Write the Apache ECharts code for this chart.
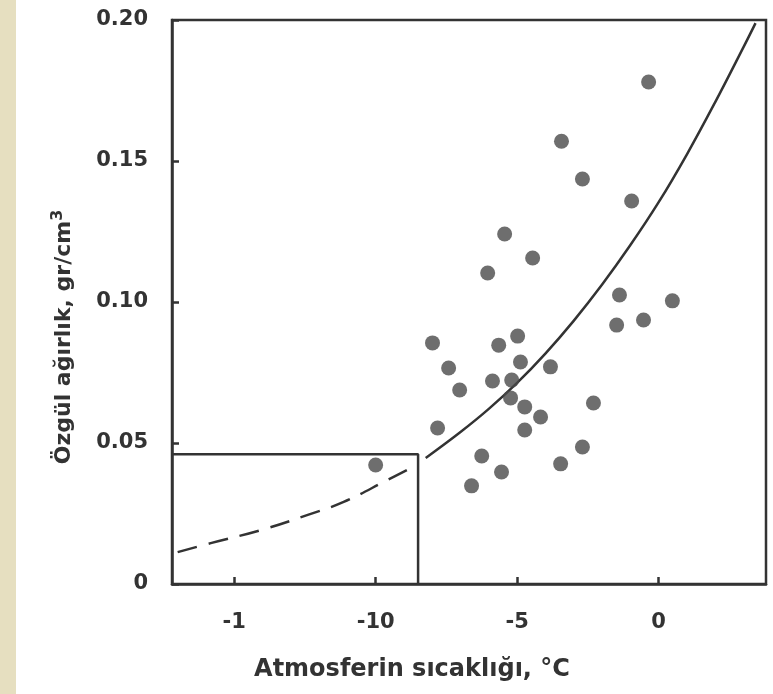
<!DOCTYPE html>
<html>
<head>
<meta charset="utf-8">
<script src="https://cdn.jsdelivr.net/npm/echarts@6/dist/echarts.min.js"></script>
<style>
  html, body { margin: 0; padding: 0; background: #fff; }
  #main { width: 773px; height: 694px; }
</style>
</head>
<body>
<div id="main"></div>
<script>
// measured points (temperature °C, density gr/cm3)
const dots = [
  [-0.35, 0.178], [-3.43, 0.157], [-2.69, 0.1436], [-0.95, 0.1358],
  [-5.44, 0.1241], [-4.45, 0.1156], [-6.04, 0.1103], [-1.38, 0.1025],
  [0.49, 0.1004], [-1.48, 0.0918], [-0.53, 0.0936], [-7.99, 0.0855],
  [-5.65, 0.0847], [-4.98, 0.0879], [-7.42, 0.0766], [-4.88, 0.0787],
  [-3.82, 0.0770], [-7.03, 0.0688], [-5.87, 0.0720], [-5.19, 0.0723],
  [-5.23, 0.0660], [-4.73, 0.0628], [-4.17, 0.0592], [-2.30, 0.0642],
  [-7.81, 0.0553], [-4.73, 0.0546], [-2.69, 0.0486], [-6.25, 0.0454],
  [-5.55, 0.0397], [-3.46, 0.0426], [-6.61, 0.0348], [-10.0, 0.0422]
]

// fitted curve
const solidCurve = [
  [-8.23, 0.0447], [-7, 0.0539], [-6, 0.0621], [-5, 0.0713],
  [-4, 0.0817], [-3, 0.0933], [-2, 0.1061], [-1, 0.1201],
  [0, 0.1353], [1, 0.1523], [2, 0.1708], [3, 0.1903], [3.43, 0.1989]
]

const dashedCurve = [
  [-17.0, 0.0113], [-15.83, 0.0145], [-14.06, 0.0191], [-12.4, 0.0245],
  [-11.13, 0.0291], [-9.58, 0.0369], [-8.76, 0.0411]
]

const boxLine = [[-17.2, 0.046], [-8.5, 0.046], [-8.5, 0]]

const xTicks = [-15, -10, -5, 0]
const xTickLabels = ['-1', '-10', '-5', '0']

const ink = '#333'
const font = 'DejaVu Sans'

const chart = echarts.init(document.getElementById('main'), null, { renderer: 'canvas' })

chart.setOption({
  animation: false,
  backgroundColor: '#fff',
  grid: {
    left: 172, right: 7, top: 20, bottom: 110,
    show: true, borderColor: ink, borderWidth: 2.5
  },
  xAxis: {
    type: 'value',
    min: -17.2,
    max: 3.8,
    axisLine: { show: true, onZero: false, lineStyle: { color: ink, width: 2.5 } },
    axisTick: {
      show: true, inside: true, length: 7,
      customValues: xTicks,
      lineStyle: { color: ink, width: 2.5 }
    },
    axisLabel: {
      customValues: xTicks,
      margin: 28,
      color: ink,
      fontFamily: font,
      fontWeight: 'bold',
      fontSize: 21,
      formatter: v => xTickLabels[xTicks.indexOf(v)] || ''
    },
    splitLine: { show: false }
  },
  yAxis: {
    type: 'value',
    min: 0,
    max: 0.2,
    interval: 0.05,
    axisLine: { show: true, onZero: false, lineStyle: { color: ink, width: 2.5 } },
    axisTick: { show: true, inside: true, length: 7, lineStyle: { color: ink, width: 2.5 } },
    axisLabel: {
      margin: 24,
      color: ink,
      fontFamily: font,
      fontWeight: 'bold',
      fontSize: 21,
      formatter: v => v === 0 ? '0' : v.toFixed(2)
    },
    splitLine: { show: false }
  },
  graphic: [
    {
      type: 'rect',
      left: 0, top: 0,
      shape: { width: 16, height: 694 },
      style: { fill: '#e6dfc0' }
    },
    {
      type: 'text',
      x: 412, y: 670,
      style: {
        text: 'Atmosferin sıcaklığı, °C',
        fill: ink,
        font: 'bold 24px "DejaVu Sans"',
        align: 'center',
        verticalAlign: 'middle'
      }
    },
    {
      type: 'text',
      x: 64, y: 337,
      rotation: Math.PI / 2,
      style: {
        text: '{a|Özgül ağırlık, gr/cm}{s|3}',
        fill: ink,
        align: 'center',
        verticalAlign: 'middle',
        rich: {
          a: { fontFamily: font, fontWeight: 'bold', fontSize: 22, fill: ink },
          s: { fontFamily: font, fontWeight: 'bold', fontSize: 16, fill: ink, verticalAlign: 'top', padding: [0, 0, 12, 0] }
        }
      }
    }
  ],
  series: [
    {
      type: 'line',
      data: boxLine,
      showSymbol: false,
      lineStyle: { color: ink, width: 2.5 },
      z: 2
    },
    {
      type: 'line',
      data: dashedCurve,
      smooth: 0.4,
      showSymbol: false,
      lineStyle: { color: ink, width: 2.5, type: [20, 12] },
      z: 2
    },
    {
      type: 'line',
      data: solidCurve,
      smooth: 0.4,
      showSymbol: false,
      lineStyle: { color: ink, width: 2.5 },
      z: 2
    },
    {
      type: 'scatter',
      data: dots,
      symbolSize: 15,
      itemStyle: { color: '#4a4a4a' },
      z: 3
    }
  ]
})
</script>
</body>
</html>
